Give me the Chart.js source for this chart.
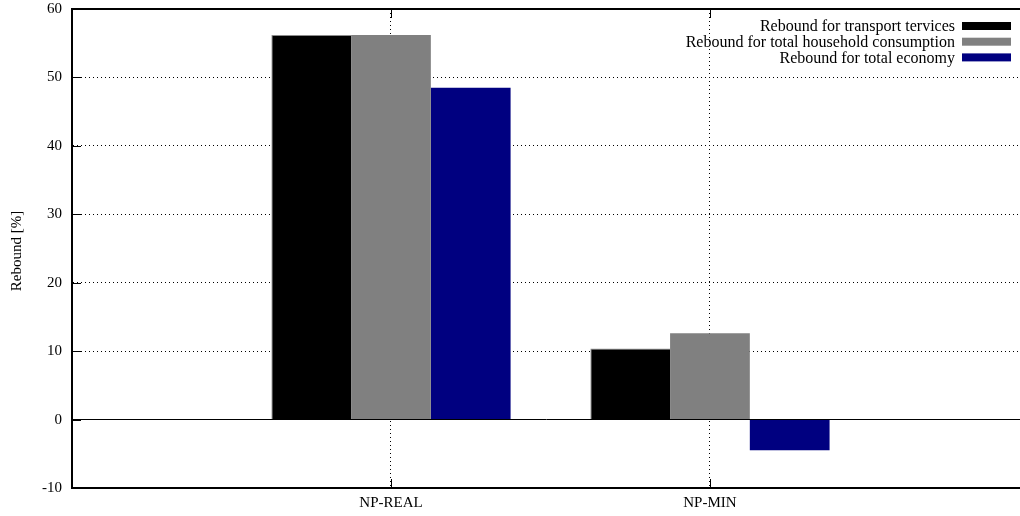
<!DOCTYPE html>
<html lang="en">
<head>
  <meta charset="UTF-8">
  <title>Rebound</title>
  <script src="https://cdn.jsdelivr.net/npm/chart.js"></script>
  <style>
    body { margin: 0; background: #fff; }
    #wrap { width: 1020px; height: 516px; }
  </style>
</head>
<body>
  <div id="wrap"><canvas id="myChart" width="1020" height="516"></canvas></div>

  <script>
    // categories and series
    const categories = ['NP-REAL', 'NP-MIN'];
    const transport = [56.2, 10.4];
    const household = [56.2, 12.6];
    const economy = [48.5, -4.5];
    const yTicks = [-10, 0, 10, 20, 30, 40, 50, 60];

    const FONT = '"Liberation Serif", "Times New Roman", serif';

    function points(vals) {
      return vals.map((v, i) => ({ x: i, y: v }));
    }

    // gnuplot style frame: top border, inward ticks, legend, y label
    const gnuplotFrame = {
      id: 'gnuplotFrame',
      afterDraw(chart) {
        const ctx = chart.ctx;
        const a = chart.chartArea;
        const xs = chart.scales.x, ys = chart.scales.y;
        ctx.save();
        ctx.strokeStyle = '#000';
        ctx.lineWidth = 2;
        ctx.beginPath();
        ctx.moveTo(a.left - 1, a.top);
        ctx.lineTo(a.right, a.top);
        ctx.stroke();

        ctx.lineWidth = 1;
        ctx.beginPath();
        yTicks.forEach(v => {
          const py = Math.round(ys.getPixelForValue(v)) + 0.5;
          ctx.moveTo(a.left, py);
          ctx.lineTo(a.left + 9, py);
        });
        categories.forEach((c, i) => {
          const px = Math.round(xs.getPixelForValue(i)) + 0.5;
          ctx.moveTo(px, a.bottom);
          ctx.lineTo(px, a.bottom - 9);
          ctx.moveTo(px, a.top);
          ctx.lineTo(px, a.top + 9);
        });
        ctx.stroke();

        // legend, text right aligned, swatch on the right
        ctx.font = '16px ' + FONT;
        ctx.textAlign = 'right';
        ctx.textBaseline = 'middle';
        chart.data.datasets.forEach((ds, i) => {
          const cy = 26 + i * 15.7;
          ctx.fillStyle = '#000';
          ctx.fillText(ds.label, 955, cy + 1);
          ctx.fillStyle = ds.backgroundColor;
          ctx.fillRect(962, cy - 4, 49, 8);
        });

        // y axis label
        ctx.translate(17, 251);
        ctx.rotate(-Math.PI / 2);
        ctx.textAlign = 'center';
        ctx.fillStyle = '#000';
        ctx.font = '15px ' + FONT;
        ctx.fillText('Rebound [%]', 0, 0);
        ctx.restore();
      }
    };

    const dotted = (ctx) => {
      if (!ctx.tick) return [];
      return ctx.tick.value === 0 && ctx.scale.axis === 'y' ? [] : [1, 3];
    };

    const ctx = document.getElementById('myChart').getContext('2d');
    const myChart = new Chart(ctx, {
      type: 'bar',
      data: {
        datasets: [
          {
            label: 'Rebound for transport tervices',
            data: points(transport),
            backgroundColor: '#000000',
            borderColor: '#8c8c8c',
            borderWidth: { top: 1, left: 1, right: 0, bottom: 0 }
          },
          {
            label: 'Rebound for total household consumption',
            data: points(household),
            backgroundColor: '#808080',
            borderColor: '#a8a8a8',
            borderWidth: 0
          },
          {
            label: 'Rebound for total economy',
            data: points(economy),
            backgroundColor: '#000080',
            borderWidth: 0
          }
        ]
      },
      options: {
        responsive: false,
        animation: false,
        categoryPercentage: 0.75,
        barPercentage: 1.0,
        layout: { padding: { top: 9, left: 0, right: 0, bottom: 0 } },
        plugins: {
          legend: { display: false },
          tooltip: { enabled: false }
        },
        scales: {
          x: {
            type: 'linear',
            offset: false,
            min: -1,
            max: 1.972,
            afterBuildTicks: (scale) => {
              scale.ticks = categories.map((c, i) => ({ value: i }));
            },
            afterFit: (scale) => {
              scale.height = 28;
              scale.paddingLeft = 0;
              scale.paddingRight = 0;
            },
            ticks: {
              callback: (v) => categories[v] ?? '',
              color: '#000',
              font: { family: FONT, size: 15 },
              padding: 6,
              maxRotation: 0,
              autoSkip: false
            },
            grid: {
              color: '#000',
              lineWidth: 1,
              offset: false,
              drawTicks: false
            },
            border: { display: true, color: '#000', width: 2, dash: dotted }
          },
          y: {
            min: -10,
            max: 60,
            afterBuildTicks: (scale) => {
              scale.ticks = yTicks.map(v => ({ value: v }));
            },
            afterFit: (scale) => {
              scale.width = 72;
              scale.paddingTop = 0;
              scale.paddingBottom = 0;
            },
            ticks: {
              color: '#000',
              font: { family: FONT, size: 15 },
              padding: 10
            },
            grid: {
              color: '#000',
              lineWidth: 1,
              drawTicks: false
            },
            border: { display: true, color: '#000', width: 2, dash: dotted }
          }
        }
      },
      plugins: [gnuplotFrame]
    });
  </script>
</body>
</html>
